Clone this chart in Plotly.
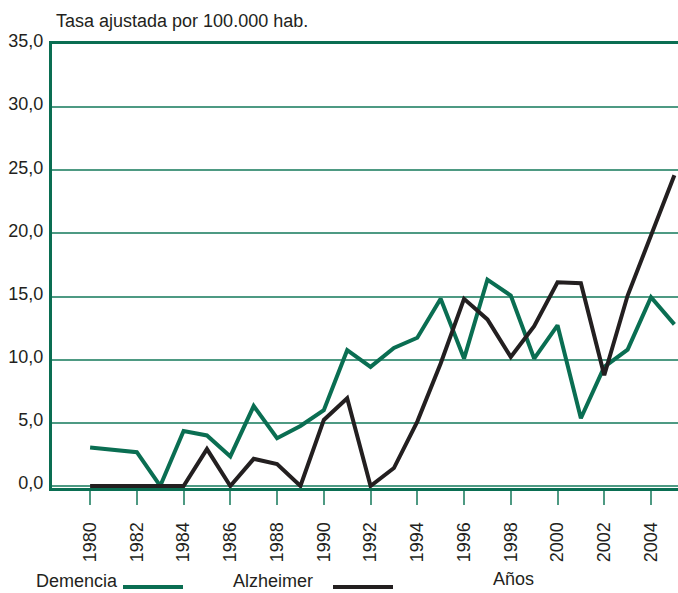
import plotly.graph_objects as go

years = [1980, 1982, 1983, 1984, 1985, 1986, 1987, 1988, 1989, 1990, 1991, 1992,
         1993, 1994, 1995, 1996, 1997, 1998, 1999, 2000, 2001, 2002, 2003, 2004, 2005]
demencia = [3.05, 2.68, 0.0, 4.36, 4.0, 2.34, 6.33, 3.78, 4.75, 6.0, 10.75, 9.43,
            10.93, 11.74, 14.82, 10.09, 16.34, 15.08, 10.09, 12.72, 5.36, 9.43, 10.8, 14.95, 12.8]
alzheimer = [0.0, 0.0, 0.0, 0.0, 2.92, 0.0, 2.15, 1.73, 0.0, 5.23, 6.94, 0.0,
             1.42, 5.1, 9.7, 14.82, 13.19, 10.22, 12.66, 16.13, 16.05, 8.77, 15.08, 19.94, 24.6]

x_ticks = list(range(1980, 2005, 2))
y_ticks = [0, 5, 10, 15, 20, 25, 30, 35]

GREEN = "#0a6e52"
GRID = "#4e9a83"
BLACK = "#231f20"
FONT = "Liberation Sans, Arial, sans-serif"

fig = go.Figure()
fig.add_trace(go.Scatter(x=years, y=demencia, mode="lines", name="Demencia",
                         line=dict(color=GREEN, width=4)))
fig.add_trace(go.Scatter(x=years, y=alzheimer, mode="lines", name="Alzheimer",
                         line=dict(color=BLACK, width=4)))

L, R, T, B = 52, 0, 44, 105
W, H = 678, 593
pw, ph = W - L - R, H - T - B

def px(xp):
    return (xp - L) / pw

def py(yp):
    return (H - B - yp) / ph

fig.update_layout(
    width=W, height=H,
    margin=dict(l=L, r=R, t=T, b=B, pad=0, autoexpand=False),
    paper_bgcolor="white", plot_bgcolor="white",
    showlegend=False,
    separators=",.",
    font=dict(family=FONT, color=BLACK, size=17),
    xaxis=dict(
        range=[1978.37, 2005.155],
        tickvals=x_ticks,
        tickangle=-90,
        ticks="outside", ticklen=14, tickwidth=2, tickcolor=GRID,
        ticklabelstandoff=10,
        tickfont=dict(size=18, color=BLACK, family=FONT),
        showgrid=False, zeroline=False, automargin=False,
        showline=True, linecolor=GREEN, linewidth=3, mirror=True,
    ),
    yaxis=dict(
        range=[-0.16, 35],
        tickvals=y_ticks,
        tickformat=".1f",
        ticks="",
        ticklabelshift=-3,
        ticklabelstandoff=2,
        tickfont=dict(size=18, color=BLACK, family=FONT),
        showgrid=True, gridcolor=GRID, gridwidth=1.5,
        zeroline=False, automargin=False,
        showline=True, linecolor=GREEN, linewidth=3,
    ),
)

fig.add_annotation(text="Tasa ajustada por 100.000 hab.", xref="paper", yref="paper",
                   x=px(54), y=py(21), xanchor="left", yanchor="middle", showarrow=False,
                   font=dict(size=18, color=BLACK, family=FONT))
fig.add_annotation(text="Demencia", xref="paper", yref="paper",
                   x=px(34), y=py(581), xanchor="left", yanchor="middle", showarrow=False,
                   font=dict(size=18, color=BLACK, family=FONT))
fig.add_annotation(text="Alzheimer", xref="paper", yref="paper",
                   x=px(231), y=py(581), xanchor="left", yanchor="middle", showarrow=False,
                   font=dict(size=18, color=BLACK, family=FONT))
fig.add_annotation(text="Años", xref="paper", yref="paper",
                   x=px(491), y=py(579), xanchor="left", yanchor="middle", showarrow=False,
                   font=dict(size=18, color=BLACK, family=FONT))
fig.add_shape(type="line", xref="paper", yref="paper", x0=px(123), x1=px(183),
              y0=py(587), y1=py(587), line=dict(color=GREEN, width=4))
fig.add_shape(type="line", xref="paper", yref="paper", x0=px(333), x1=px(393),
              y0=py(587), y1=py(587), line=dict(color=BLACK, width=4))

fig.write_html("out.html", config={"displayModeBar": False},
               post_script="document.body.style.margin='0';document.body.style.padding='0';")
